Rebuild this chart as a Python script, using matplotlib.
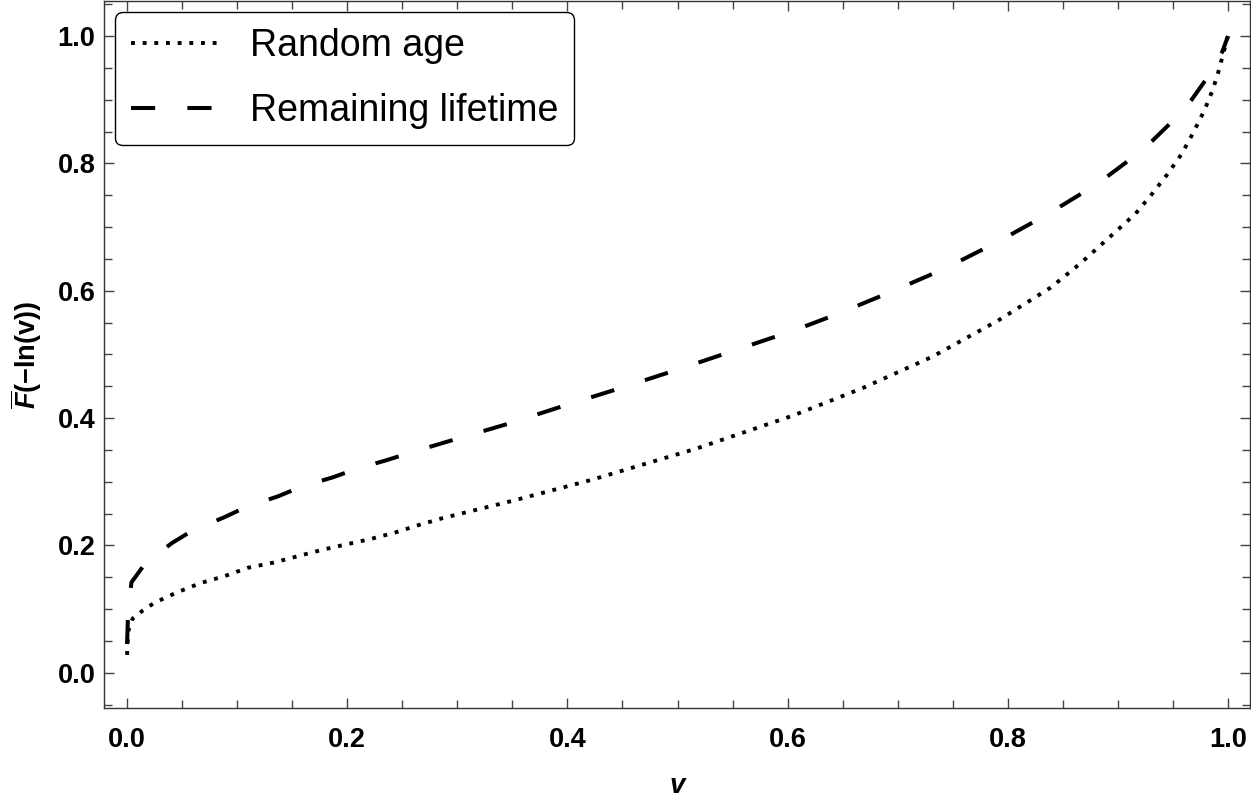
#Recreates the plot of F-bar(-ln(v)) for random age and remaining lifetime

import matplotlib
matplotlib.use('Agg')
import matplotlib.pyplot as plt
from matplotlib.ticker import MultipleLocator

#values
v_age = [0.0, 0.001, 0.005, 0.0145, 0.025, 0.045, 0.067, 0.089, 0.11, 0.133, 0.155, 0.177, 0.2,
         0.221, 0.243, 0.265, 0.287, 0.35, 0.421, 0.517, 0.605, 0.668, 0.731, 0.791, 0.839, 0.866,
         0.893, 0.916, 0.931, 0.945, 0.958, 0.969, 0.979, 0.986, 0.991, 0.995, 1.0]
f_age = [0.028, 0.065, 0.085, 0.098, 0.11, 0.126, 0.141, 0.152, 0.165, 0.173, 0.183, 0.193, 0.202,
         0.21, 0.22, 0.232, 0.243, 0.27, 0.3025, 0.352, 0.404, 0.447, 0.496, 0.553, 0.605, 0.643,
         0.685, 0.721, 0.752, 0.783, 0.815, 0.85, 0.885, 0.915, 0.942, 0.968, 1.0]

v_rem = [0.0, 0.001, 0.004, 0.017, 0.041, 0.06, 0.088, 0.109, 0.137, 0.158, 0.187, 0.208, 0.236,
         0.258, 0.287, 0.348, 0.398, 0.448, 0.498, 0.548, 0.608, 0.646, 0.695, 0.743, 0.79, 0.837,
         0.872, 0.89, 0.914, 0.931, 0.953, 0.967, 0.985, 0.995, 1.0]
f_rem = [0.045, 0.10, 0.142, 0.173, 0.204, 0.224, 0.244, 0.261, 0.277, 0.292, 0.307, 0.32, 0.334,
         0.346, 0.361, 0.392, 0.42, 0.447, 0.475, 0.504, 0.539, 0.564, 0.599, 0.635, 0.676, 0.721,
         0.758, 0.779, 0.81, 0.835, 0.872, 0.90, 0.944, 0.976, 1.0]

labels = ['Random age', 'Remaining lifetime']

plt.rcParams['font.family'] = ['Liberation Sans', 'DejaVu Sans']
plt.rcParams['mathtext.fontset'] = 'custom'
plt.rcParams['mathtext.it'] = 'Liberation Sans:italic:bold'
plt.rcParams['mathtext.rm'] = 'Liberation Sans:bold'
plt.rcParams['mathtext.bf'] = 'Liberation Sans:bold'

fig = plt.figure(figsize=(12.51, 7.95), dpi=100)
ax = fig.add_axes([0.0831, 0.1094, 0.9161, 0.8893])

#dotted line for random age, long dashes for remaining lifetime
ax.plot(v_age, f_age, color='black', linewidth=2.8, linestyle=(0, (1, 2)), label=labels[0])
ax.plot(v_rem, f_rem, color='black', linewidth=2.9, linestyle=(0, (6, 8)), label=labels[1])

ax.set_xlim(-0.021, 1.02)
ax.set_ylim(-0.0554, 1.055)

#ticks on all four sides, pointing in
ax.xaxis.set_major_locator(MultipleLocator(0.2))
ax.xaxis.set_minor_locator(MultipleLocator(0.05))
ax.yaxis.set_major_locator(MultipleLocator(0.2))
ax.yaxis.set_minor_locator(MultipleLocator(0.05))
ax.tick_params(which='both', direction='in', top=True, right=True, color='#444444', width=1.0)
ax.tick_params(which='major', length=7.5)
ax.tick_params(which='minor', length=5.5)
ax.tick_params(axis='x', which='major', pad=14, labelsize=19.5)
ax.tick_params(axis='y', which='major', pad=6, labelsize=19.5)
for lab in ax.get_xticklabels() + ax.get_yticklabels():
    lab.set_fontweight('bold')

for side in ['left', 'right', 'top', 'bottom']:
    ax.spines[side].set_color('#333333')
    ax.spines[side].set_linewidth(1.0)

ax.set_xlabel('v', fontsize=20, fontweight='bold', style='italic', labelpad=14)
ax.set_ylabel(r'$\overline{F}$(−ln(v))', fontsize=19.5, fontweight='bold', labelpad=10)

leg = ax.legend(loc='upper left', fontsize=27, handlelength=2.45, handletextpad=0.72,
                labelspacing=0.78, borderaxespad=0.3, borderpad=0.42, fancybox=True,
                framealpha=1, edgecolor='black')
leg.get_frame().set_linewidth(1.0)

fig.savefig('out.png', dpi=100)
